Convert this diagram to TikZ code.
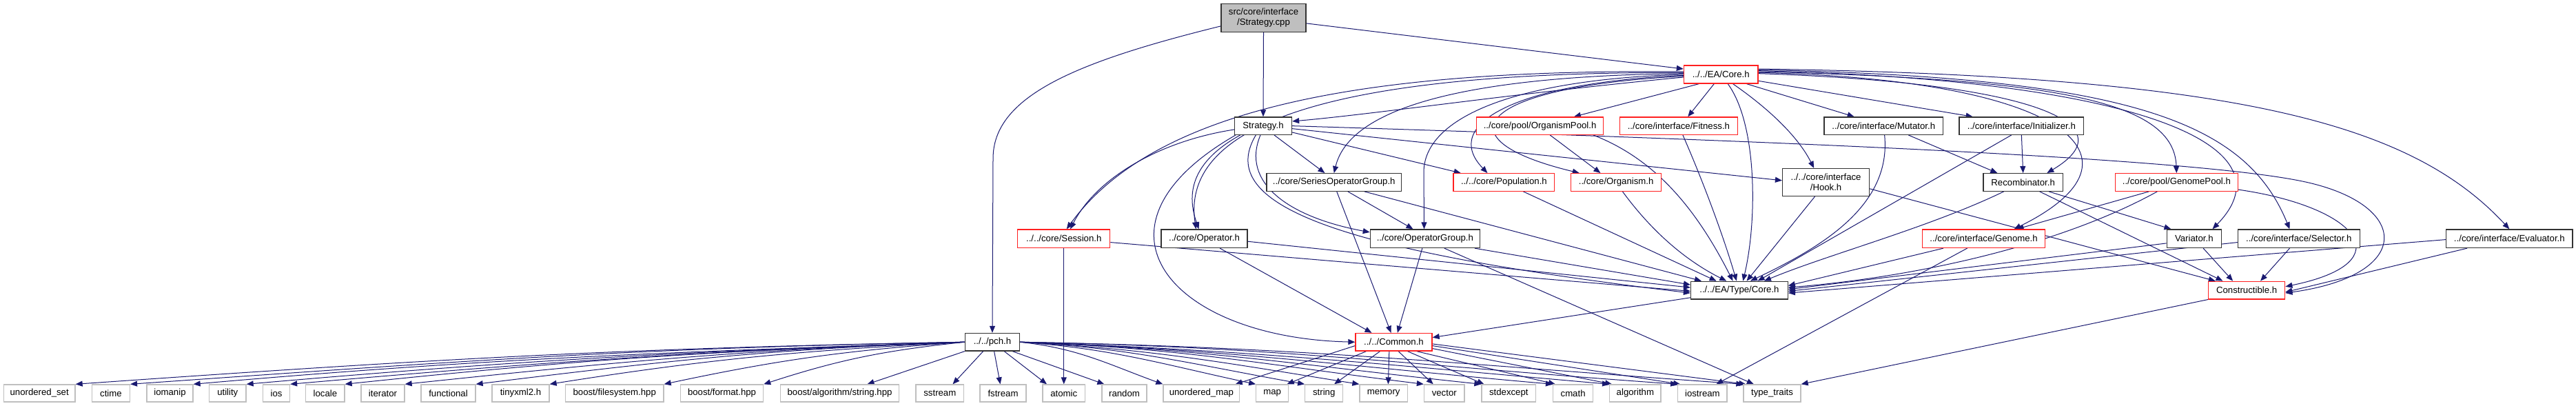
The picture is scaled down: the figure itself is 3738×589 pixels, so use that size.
\documentclass[tikz,border=0pt]{standalone}
\usepackage{fontspec}
\setmainfont{Liberation Sans}
\usetikzlibrary{arrows.meta,backgrounds}
\definecolor{edgeblue}{HTML}{191970}
\definecolor{boxred}{HTML}{FF2020}
\definecolor{extgray}{HTML}{BFBFBF}
\definecolor{rootgray}{HTML}{BFBFBF}
\newcommand{\mkbox}[7]{\node[#6, minimum width={(#3-#2)*0.75pt}, minimum height={(#5-#4)*0.75pt}] (#1) at ({(#2+#3)/2},{(#4+#5)/2}) {#7};}
\begin{document}
\begin{tikzpicture}[x=0.75pt,y=-0.75pt,
  base/.style={rectangle, inner sep=0pt, font=\fontsize{9.9}{11}\selectfont, align=center, fill=white, line width=1pt},
  blk/.style={base, draw=black!80},
  rbox/.style={base, draw=boxred},
  ext/.style={base, draw=extgray},
  rootbox/.style={base, draw=black!80, fill=rootgray},
  conn/.style={draw=edgeblue, line width=0.75pt, -{Triangle[length=7.5pt,width=6pt]}}]
\useasboundingbox (0,0) rectangle (3738,589);
% ---- nodes ----
\mkbox{cpp}{1772}{1895}{5.6}{46.2}{rootbox}{src/core/interface\\/Strategy.cpp}
\mkbox{core}{2443.5}{2551}{95}{121}{rbox}{../../EA/Core.h}
\mkbox{sth}{1791.5}{1874.5}{170}{195.3}{blk}{Strategy.h}
\mkbox{orgpool}{2142.4}{2326.8}{170}{195.3}{rbox}{../core/pool/OrganismPool.h}
\mkbox{fitness}{2350.4}{2521.4}{170}{195.3}{rbox}{../core/interface/Fitness.h}
\mkbox{mutator}{2647}{2819.6}{170}{195.3}{blk}{../core/interface/Mutator.h}
\mkbox{init}{2843}{3023.7}{170}{195.3}{blk}{../core/interface/Initializer.h}
\mkbox{series}{1838}{2033.5}{251.7}{277.2}{blk}{../core/SeriesOperatorGroup.h}
\mkbox{pop}{2109}{2255.8}{251.7}{277.2}{rbox}{../../core/Population.h}
\mkbox{org}{2279.5}{2410.7}{251.7}{277.2}{rbox}{../core/Organism.h}
\mkbox{hook}{2586.6}{2712.5}{244.6}{284.4}{blk}{../../core/interface\\/Hook.h}
\mkbox{recomb}{2878}{2993.3}{251.7}{277.2}{blk}{Recombinator.h}
\mkbox{gpool}{3069.3}{3247.4}{251.7}{277.2}{rbox}{../core/pool/GenomePool.h}
\mkbox{session}{1476.8}{1610.7}{333}{359.5}{rbox}{../../core/Session.h}
\mkbox{oper}{1685}{1810}{333}{359.5}{blk}{../core/Operator.h}
\mkbox{opgroup}{1988.4}{2147.3}{333}{359.5}{blk}{../core/OperatorGroup.h}
\mkbox{genome}{2789.7}{2967.4}{333}{359.5}{rbox}{../core/interface/Genome.h}
\mkbox{variator}{3144.3}{3223.3}{333}{359.5}{blk}{Variator.h}
\mkbox{selector}{3247.4}{3424.2}{333}{359.5}{blk}{../core/interface/Selector.h}
\mkbox{evaluator}{3549.6}{3733}{333}{359.5}{blk}{../core/interface/Evaluator.h}
\mkbox{typecore}{2453.6}{2594.2}{408.3}{433.9}{blk}{../../EA/Type/Core.h}
\mkbox{constr}{3204.5}{3315.7}{408.3}{433.9}{rbox}{Constructible.h}
\mkbox{pch}{1400.4}{1479.5}{483.5}{509}{blk}{../../pch.h}
\mkbox{common}{1967}{2078}{483.5}{509}{rbox}{../../Common.h}
\mkbox{uset}{5.4}{109}{558}{583}{ext}{unordered\_set}
\mkbox{ctime}{133.5}{188.4}{558}{583}{ext}{ctime}
\mkbox{iomanip}{213}{280}{558}{583}{ext}{iomanip}
\mkbox{utility}{303.6}{357}{558}{583}{ext}{utility}
\mkbox{ios}{381.7}{420.5}{558}{583}{ext}{ios}
\mkbox{locale}{443.8}{500}{558}{583}{ext}{locale}
\mkbox{iterator}{524}{587}{558}{583}{ext}{iterator}
\mkbox{functional}{611}{690}{558}{583}{ext}{functional}
\mkbox{tinyxml}{714}{797}{558}{583}{ext}{tinyxml2.h}
\mkbox{bfs}{820.5}{963}{558}{583}{ext}{boost/filesystem.hpp}
\mkbox{bformat}{987.5}{1107.6}{558}{583}{ext}{boost/format.hpp}
\mkbox{balgo}{1132.6}{1304.5}{558}{583}{ext}{boost/algorithm/string.hpp}
\mkbox{sstream}{1329}{1398.7}{558}{583}{ext}{sstream}
\mkbox{fstream}{1422}{1489}{558}{583}{ext}{fstream}
\mkbox{atomic}{1513}{1574.5}{558}{583}{ext}{atomic}
\mkbox{random}{1599}{1664}{558}{583}{ext}{random}
\mkbox{umap}{1688}{1798.7}{558}{583}{ext}{unordered\_map}
\mkbox{map}{1822.8}{1869.6}{558}{583}{ext}{map}
\mkbox{string}{1893.75}{1948.7}{558}{583}{ext}{string}
\mkbox{memory}{1973}{2042.4}{558}{583}{ext}{memory}
\mkbox{vector}{2066.5}{2125}{558}{583}{ext}{vector}
\mkbox{stdexcept}{2150}{2228.6}{558}{583}{ext}{stdexcept}
\mkbox{cmath}{2253.6}{2311.6}{558}{583}{ext}{cmath}
\mkbox{algorithm}{2335.7}{2410}{558}{583}{ext}{algorithm}
\mkbox{iostream}{2434.8}{2506}{558}{583}{ext}{iostream}
\mkbox{typetraits}{2530}{2613}{558}{583}{ext}{type\_traits}
% ---- edges ----
\begin{scope}[on background layer]
% from cpp
\draw[conn] ([yshift=-9pt]cpp.west) .. controls (1560,90) and (1441,140) .. (1441,230) -- (pch.north);
\draw[conn] (cpp.south) -- (sth.north);
\draw[conn] ([yshift=-6pt]cpp.east) -- ([yshift=6pt]core.west);
% from core
\draw[conn] ([yshift=-3pt]core.west) .. controls (2200,135) and (2000,165) .. ([yshift=5pt]sth.east);
\draw[conn] ([yshift=3pt]core.west) .. controls (2000,100) and (1680,150) .. ([xshift=3pt]session.north);
\draw[conn] ([yshift=2pt]core.west) .. controls (2000,104) and (1710,160) .. ([xshift=-9pt]oper.north);
\draw[conn] ([yshift=1pt]core.west) .. controls (2150,110) and (1960,150) .. (series.north);
\draw[conn] (core.west) .. controls (2200,115) and (2066,170) .. (2066,250) -- ([xshift=-1pt]opgroup.north);
\draw[conn] ([yshift=-1pt]core.west) .. controls (2200,120) and (2090,180) .. ([xshift=-18pt]pop.north);
\draw[conn] ([yshift=-2pt]core.west) .. controls (2150,125) and (2080,200) .. ([xshift=-40pt]org.north);
\draw[conn] ([xshift=-24pt]core.south) -- ([xshift=37pt]orgpool.north);
\draw[conn] ([xshift=-7.5pt]core.south) -- ([xshift=10pt]fitness.north);
\draw[conn] ([xshift=7.5pt]core.south) .. controls (2550,180) and (2550,320) .. ([xshift=4pt]typecore.north);
\draw[conn] ([xshift=13pt]core.south) .. controls (2570,160) and (2610,200) .. ([xshift=-13pt]hook.north);
\draw[conn] ([xshift=28pt]core.south) -- ([xshift=-32pt]mutator.north);
\draw[conn] ([yshift=-7pt]core.east) -- ([xshift=-53pt]init.north);
\draw[conn] ([yshift=1pt]core.east) .. controls (2950,120) and (3090,180) .. ([xshift=26pt]recomb.north);
\draw[conn] ([yshift=2pt]core.east) .. controls (3000,115) and (3130,230) .. ([xshift=33pt]genome.north);
\draw[conn] ([yshift=3pt]core.east) .. controls (3000,115) and (3155,150) .. (gpool.north);
\draw[conn] ([yshift=4pt]core.east) .. controls (3100,115) and (3330,210) .. ([xshift=20pt]variator.north);
\draw[conn] ([yshift=5pt]core.east) .. controls (3100,112) and (3260,180) .. ([xshift=-10pt]selector.north);
\draw[conn] ([yshift=6pt]core.east) .. controls (3250,110) and (3500,180) .. (evaluator.north);
% from Strategy.h
\draw[conn] ([yshift=-4pt]sth.west) .. controls (1680,205) and (1590,260) .. ([xshift=7pt]session.north);
\draw[conn] ([xshift=-25pt]sth.south) .. controls (1720,240) and (1725,290) .. ([xshift=-6pt]oper.north);
\draw[conn] ([xshift=12pt]sth.south) -- ([xshift=-10pt]series.north);
\draw[conn] ([yshift=-7pt]sth.east) -- ([xshift=-47pt]pop.north);
\draw[conn] ([yshift=-3pt]sth.east) -- ([yshift=2pt]hook.west);
\draw[conn] (sth.east) .. controls (2600,205) and (3200,230) .. (3350,265) .. controls (3500,300) and (3500,400) .. ([yshift=-3pt]constr.east);
\draw[conn] ([xshift=-3pt]sth.south) .. controls (1800,265) and (1870,315) .. ([yshift=7pt]opgroup.west);
\draw[conn] ([xshift=-8pt]sth.south) .. controls (1760,300) and (1950,365) .. ([yshift=-3pt]typecore.west);
\draw[conn] ([xshift=-30pt]sth.south) .. controls (1560,330) and (1700,490) .. (common.west);
% middle nodes
\draw[conn] ([xshift=11pt]orgpool.south) -- ([xshift=-17pt]org.north);
\draw[conn] ([xshift=58pt]orgpool.south) .. controls (2400,230) and (2460,300) .. ([xshift=-7pt]typecore.north);
\draw[conn] ([xshift=4.5pt]fitness.south) .. controls (2470,260) and (2500,340) .. ([xshift=-3pt]typecore.north);
\draw[conn] ([xshift=7pt]org.south) .. controls (2400,340) and (2450,380) .. ([xshift=-14pt]typecore.north);
\draw[conn] ([xshift=21pt]pop.south) -- ([xshift=-25pt]typecore.north);
\draw[conn] ([xshift=33pt]series.south) -- ([xshift=12pt]typecore.north west);
\draw[conn] ([xshift=15pt]series.south) -- ([xshift=-13pt]opgroup.north);
\draw[conn] ([xshift=3pt]series.south) -- ([xshift=-3pt]common.north);
\draw[conn] ([xshift=54pt]opgroup.south) -- ([yshift=6pt]typecore.west);
\draw[conn] ([xshift=-3pt]opgroup.south) -- ([xshift=4pt]common.north);
\draw[conn] ([xshift=21pt]opgroup.south) -- ([xshift=-20pt]typetraits.north);
\draw[conn] ([yshift=-3pt]oper.east) -- ([yshift=3pt]typecore.west);
\draw[conn] ([xshift=17pt]oper.south) -- ([xshift=-24pt]common.north);
\draw[conn] ([yshift=-4pt]session.east) -- ([yshift=-1pt]typecore.west);
\draw[conn] (session.south) -- (atomic.north);
\draw[conn] ([xshift=-12pt]hook.south) -- ([xshift=8pt]typecore.north);
\draw[conn] ([yshift=-7pt]hook.east) -- ([xshift=-34pt]constr.north);
\draw[conn] ([xshift=27pt]mutator.south) -- ([xshift=-28pt]recomb.north);
\draw[conn] ([xshift=1pt]mutator.south) .. controls (2745,300) and (2640,360) .. ([xshift=12pt]typecore.north);
\draw[conn] (init.south) -- (recomb.north);
\draw[conn] ([xshift=-11pt]init.south) -- ([xshift=20pt]typecore.north);
\draw[conn] ([xshift=-21pt]recomb.south) .. controls (2800,330) and (2650,370) .. ([xshift=27pt]typecore.north);
\draw[conn] ([xshift=28pt]recomb.south) -- ([xshift=-25pt]variator.north);
\draw[conn] ([xshift=18pt]recomb.south) -- ([xshift=-26pt]constr.north);
\draw[conn] ([xshift=-44pt]genome.south) -- ([yshift=5pt]typecore.east);
\draw[conn] ([xshift=-18pt]genome.south) -- ([xshift=15pt]iostream.north);
\draw[conn] ([xshift=-30pt]gpool.south) -- ([xshift=36pt]genome.north);
\draw[conn] ([xshift=-21pt]gpool.south) .. controls (3000,350) and (2800,400) .. ([yshift=3pt]typecore.east);
\draw[conn] ([yshift=-8pt]gpool.east) .. controls (3420,300) and (3490,380) .. ([yshift=4pt]constr.east);
\draw[conn] ([yshift=-5pt]variator.west) -- ([yshift=1pt]typecore.east);
\draw[conn] ([xshift=10pt]variator.south) -- ([xshift=-15pt]constr.north);
\draw[conn] ([yshift=-4pt]selector.west) -- ([yshift=-1pt]typecore.east);
\draw[conn] ([xshift=-10pt]selector.south) -- ([xshift=15pt]constr.north);
\draw[conn] ([yshift=-1pt]evaluator.west) -- ([yshift=-3pt]typecore.east);
\draw[conn] ([xshift=-46pt]evaluator.south) -- ([yshift=-2pt]constr.east);
\draw[conn] ([yshift=-8pt]typecore.west) -- ([yshift=5pt]common.east);
\draw[conn] (constr.south west) -- (typetraits.north east);
% Common.h to std headers
\draw[conn] ([yshift=-4pt]common.west) -- ([xshift=-5pt]umap.north east);
\draw[conn] ([xshift=-30pt]common.south) -- ([xshift=-2pt]map.north east);
\draw[conn] ([xshift=-15pt]common.south) -- ([xshift=-10pt]string.north east);
\draw[conn] ([xshift=-5pt]common.south) -- ([xshift=5pt]memory.north);
\draw[conn] ([xshift=5pt]common.south) -- ([xshift=-12pt]vector.north);
\draw[conn] ([xshift=15pt]common.south) -- ([xshift=3pt]stdexcept.north west);
\draw[conn] ([xshift=25pt]common.south) -- ([xshift=3pt]cmath.north west);
\draw[conn] ([yshift=-7pt]common.east) -- ([xshift=3pt]algorithm.north west);
\draw[conn] ([yshift=-4pt]common.east) -- ([xshift=3pt]iostream.north west);
\draw[conn] ([yshift=-2pt]common.east) -- ([xshift=3pt]typetraits.north west);
% pch.h to headers on the left
\foreach \t/\o/\i in {uset/181/4, ctime/181/4, iomanip/182/5, utility/182/5, ios/182/5, locale/182/6, iterator/182/6, functional/182/7, tinyxml/183/9, bfs/184/12, bformat/186/18}
  \draw[conn] (pch.west) to[out=\o,in=\i] (\t.north east);
\draw[conn] (pch.south west) -- ([xshift=-35pt]balgo.north east);
\draw[conn] ([xshift=-10pt]pch.south) -- ([xshift=14pt]sstream.north);
\draw[conn] ([xshift=2pt]pch.south) -- ([xshift=-3pt]fstream.north);
\draw[conn] ([xshift=13pt]pch.south) -- ([xshift=5pt]atomic.north west);
\draw[conn] ([xshift=22pt]pch.south) -- ([xshift=3pt]random.north west);
% pch.h to headers on the right
\foreach \t/\o/\i in {umap/-6/160, map/-4/168, string/-3/170, memory/-3/171, vector/-2/173, stdexcept/-2/174, cmath/-2/175, algorithm/-2/175, iostream/-1/176, typetraits/-1/176}
  \draw[conn] (pch.east) to[out=\o,in=\i] (\t.north west);
\end{scope}
\end{tikzpicture}
\end{document}
